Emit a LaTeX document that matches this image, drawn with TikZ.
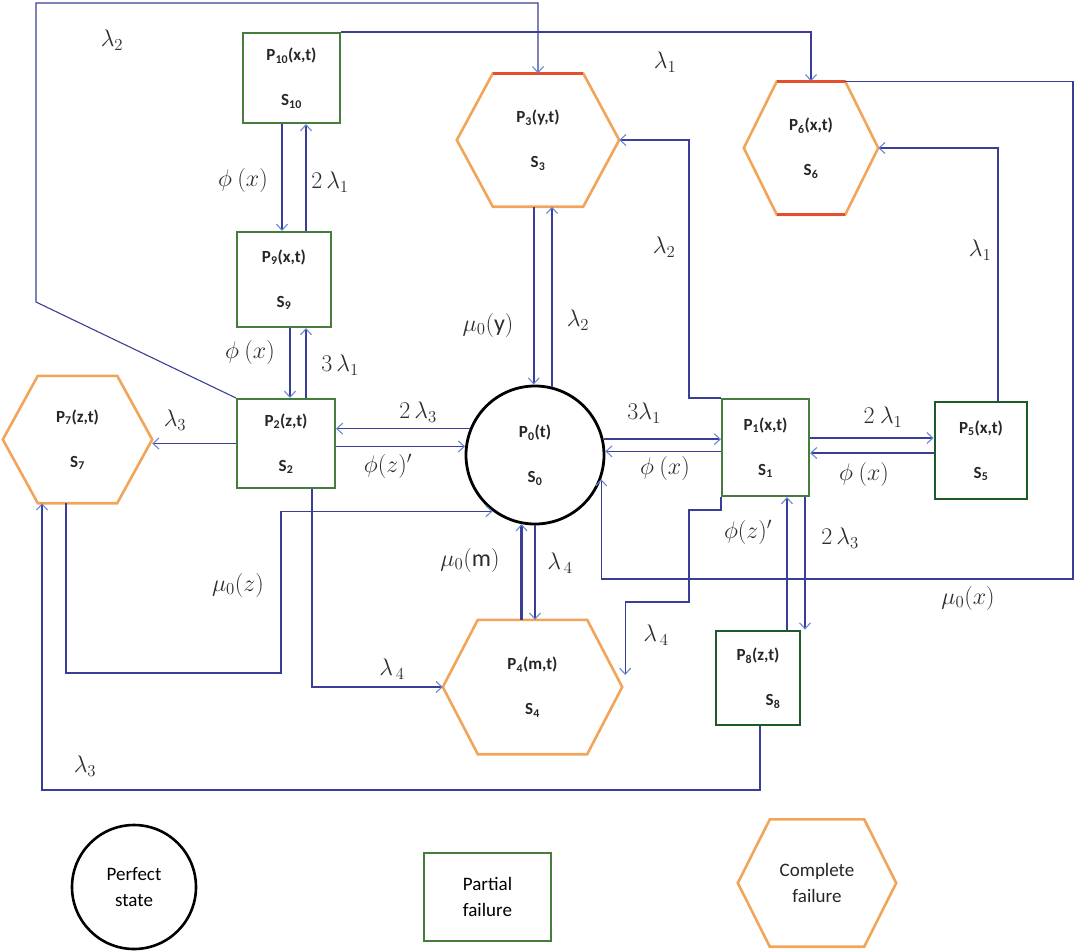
\documentclass[tikz,border=0pt]{standalone}
\usepackage{fix-cm}
\usepackage{fontspec}
\setmainfont{Carlito}
\usetikzlibrary{arrows.meta,calc}
\definecolor{lnc}{RGB}{58,62,150}
\definecolor{tipc}{RGB}{105,135,210}
\definecolor{grn}{RGB}{70,125,60}
\definecolor{dgrn}{RGB}{30,90,40}
\definecolor{org}{RGB}{242,165,90}
\definecolor{redc}{RGB}{228,80,45}
\definecolor{lblc}{RGB}{45,45,45}
\newcommand{\stfont}{\fontsize{17}{19}\selectfont\bfseries}
\newcommand{\lgfont}{\fontsize{19}{26}\selectfont}
\newcommand{\lsb}[1]{_{\scriptstyle #1}}
\newcommand{\drawhex}[2]{\draw[hexline] (#1.west) -- ([xshift=#2]#1.north west) -- ([xshift=-#2]#1.north east) -- (#1.east) -- ([xshift=-#2]#1.south east) -- ([xshift=#2]#1.south west) -- cycle;}
\begin{document}
\begin{tikzpicture}[x=1pt,y=-1pt,
  tip/.style={-{Straight Barb[length=6pt,width=11pt,line width=1.1pt,color=tipc]}},
  thn/.style={draw=lnc,line width=1.1pt},
  med/.style={draw=lnc,line width=1.6pt},
  thk/.style={draw=lnc,line width=2.4pt},
  box/.style={draw=grn,line width=2pt,inner sep=0pt,align=center,font=\stfont,text=black!85},
  dbox/.style={box,draw=dgrn,line width=2.8pt},
  hexn/.style={inner sep=0pt,align=center,font=\stfont,text=black!85},
  hexline/.style={draw=org,line width=2.6pt,line join=miter},
  lbl/.style={inner sep=0pt,text=lblc,font=\fontsize{24}{28}\selectfont}
]
\useasboundingbox (0,0) rectangle (1081,951);

% ---- state nodes ----
\node[box,minimum width=97pt,minimum height=90pt] (S10) at (291.5,78) {P\textsubscript{10}(x,t)\\[26pt]S\textsubscript{10}};
\node[box,minimum width=94pt,minimum height=95pt] (S9) at (284,279.5) {P\textsubscript{9}(x,t)\\[26pt]S\textsubscript{9}};
\node[box,minimum width=98pt,minimum height=89pt] (S2) at (286,443.5) {P\textsubscript{2}(z,t)\\[26pt]S\textsubscript{2}};
\node[box,minimum width=87pt,minimum height=97pt] (S1) at (765.5,447.5) {P\textsubscript{1}(x,t)\\[26pt]S\textsubscript{1}};
\node[dbox,minimum width=92pt,minimum height=97pt] (S5) at (981,450.5) {P\textsubscript{5}(x,t)\\[26pt]S\textsubscript{5}};
\node[dbox,minimum width=84pt,minimum height=94pt] (S8) at (758,678) {P\textsubscript{8}(z,t)\\[26pt]\hspace*{30pt}S\textsubscript{8}};
\node[circle,draw=black,line width=2.8pt,minimum size=138pt,inner sep=0pt,align=center,font=\stfont,text=black!85] (S0) at (535,455) {P\textsubscript{0}(t)\\[26pt]S\textsubscript{0}};

\node[hexn,minimum width=162pt,minimum height=133pt] (S3) at (538,140) {P\textsubscript{3}(y,t)\\[26pt]S\textsubscript{3}};
\drawhex{S3}{36pt}
\draw[draw=redc,line width=2.6pt] ([xshift=36pt]S3.north west) -- ([xshift=-36pt]S3.north east);
\node[hexn,minimum width=134pt,minimum height=133pt] (S6) at (811,148) {P\textsubscript{6}(x,t)\\[26pt]S\textsubscript{6}};
\drawhex{S6}{33pt}
\draw[draw=redc,line width=2.6pt] ([xshift=33pt]S6.north west) -- ([xshift=-33pt]S6.north east);
\draw[draw=redc,line width=2.6pt] ([xshift=33pt]S6.south west) -- ([xshift=-33pt]S6.south east);
\node[hexn,minimum width=149pt,minimum height=127pt] (S7) at (77.5,439.5) {P\textsubscript{7}(z,t)\\[26pt]S\textsubscript{7}};
\drawhex{S7}{35pt}
\node[hexn,minimum width=179pt,minimum height=134pt] (S4) at (532.5,687) {P\textsubscript{4}(m,t)\\[26pt]S\textsubscript{4}};
\drawhex{S4}{35pt}

% ---- legend ----
\node[circle,draw=black,line width=2.6pt,minimum size=124pt,inner sep=0pt,align=center,font=\lgfont] (LC) at (134,887) {Perfect\\state};
\node[draw=grn,line width=2.4pt,minimum width=127pt,minimum height=88pt,inner sep=0pt,align=left,font=\lgfont] (LB) at (487.5,897) {Partial\\failure};
\node[hexn,font=\lgfont,minimum width=158pt,minimum height=127pt] (LH) at (817,883) {Complete\\failure};
\drawhex{LH}{32pt}

% ---- connectors ----
\coordinate (a1) at (36,302);
\coordinate (a2) at (36,3);
\draw[thn,tip] (S2.north west) -- (a1) -- (a2) -| (S3.north);
\draw[thn,tip] (S10.north east) -| (S6.north);

\draw[thk,tip] (S10.south -| 282,0) -- (S9.north -| 282,0);
\draw[thk,tip] (S9.north -| 306,0) -- (S10.south -| 306,0);
\draw[thk,tip] (S9.south -| 290,0) -- (S2.north -| 290,0);
\draw[thk,tip] (S2.north -| 306,0) -- (S9.south -| 306,0);

\draw[thn,tip] (S2.west) -- (S2.west -| S7.east);

\draw[med,tip] (S0.158) -- (S0.158 -| S2.east);
\draw[med,tip] (S2.east |- S0.173) -- (S0.173);

\draw[thk,tip] (S0.13) -- (S0.13 -| S1.west);
\draw[med,tip] (S1.west |- S0.3) -- (S0.3);

\draw[thk,tip] (S1.east |- 0,438) -- (S5.west |- 0,438);
\draw[med,tip] (S5.west |- 0,453) -- (S1.east |- 0,453);

\draw[thk,tip] (S3.south -| S0.91) -- (S0.91);
\draw[thk,tip] (S0.76) -- (S0.76 |- S3.south);

\draw[thk,tip] (S4.north -| S0.259) -- (S0.259);
\draw[thk,tip] (S0.south) -- (S0.south |- S4.north);

\draw[thn,tip] (S2.south -| 312,0) |- (S4.west);
\draw[thn,tip] (S7.south -| 66,0) -- (66,673) -- (281,673) -- (S0.233 -| 281,0) -- (S0.233);
\draw[thn,tip] (S8.south -| 760,0) -- (760,790) -- (42,790) -- (S7.south -| 42,0);
\draw[thn,tip] ([xshift=-33pt]S6.north east) -- (S6.north east -| 1073,0) -- (1073,579) -| (S0.-20);
\draw[thn,tip] (S5.north -| 998,0) |- (S6.east);
\draw[thn,tip] (S1.north west) -- (S1.north west -| 689,0) |- (S3.east);
\coordinate (b4) at ([shift={(3pt,12pt)}]S4.east);
\draw[thn,tip] (S1.south west) -- (S1.south west |- 0,510) -- (689,510) -- (689,602) -- (b4 |- 0,602) -- (b4);
\draw[thn,tip] (S8.north -| 787,0) -- (S1.south -| 787,0);
\draw[thn,tip] (S1.south -| 805,0) -- (S8.north -| 805,0);

% ---- labels ----
\node[lbl] (L1) at (112,40) {$\lambda\lsb{2}$};
\node[lbl] (L2) at (665,62) {$\lambda_1$};
\node[lbl] (L3) at (243,180) {$\phi\ (x)$};
\node[lbl] (L4) at (330,182) {$2\,\lambda\lsb{1}$};
\node[lbl] (L5) at (250,352) {$\phi\ (x)$};
\node[lbl] (L6) at (340,365) {$3\,\lambda_1$};
\node[lbl] (L7) at (175,420) {$\lambda\lsb{3}$};
\node[lbl] (L8) at (418,412) {$2\,\lambda\lsb{3}$};
\node[lbl] (L9) at (388,466) {$\phi(z)'$};
\node[lbl] (L10) at (488,325) {$\mu_0(\mathrm{y})$};
\node[lbl] (L11) at (578,320) {$\lambda\lsb{2}$};
\node[lbl] (L12) at (644,413) {$3\lambda_1$};
\node[lbl] (L13) at (665,468) {$\phi\ (x)$};
\node[lbl] (L14) at (883,417) {$2\ \lambda\lsb{1}$};
\node[lbl] (L15) at (864,474) {$\phi\ (x)$};
\node[lbl] (L16) at (748,532) {$\phi(z)'$};
\node[lbl] (L17) at (840,538) {$2\,\lambda\lsb{3}$};
\node[lbl] (L18) at (968,598) {$\mu_0(x)$};
\node[lbl] (L19) at (980,250) {$\lambda_1$};
\node[lbl] (L20) at (664,247) {$\lambda\lsb{2}$};
\node[lbl] (L21) at (470,560) {$\mu_0(\mathrm{m})$};
\node[lbl] (L22) at (560,563) {$\lambda\lsb{\,4}$};
\node[lbl] (L23) at (392,669) {$\lambda\lsb{\,4}$};
\node[lbl] (L24) at (656,635) {$\lambda\lsb{\,4}$};
\node[lbl] (L25) at (238,585) {$\mu\lsb{0}(z)$};
\node[lbl] (L26) at (85,766) {$\lambda\lsb{3}$};
\end{tikzpicture}
\end{document}
